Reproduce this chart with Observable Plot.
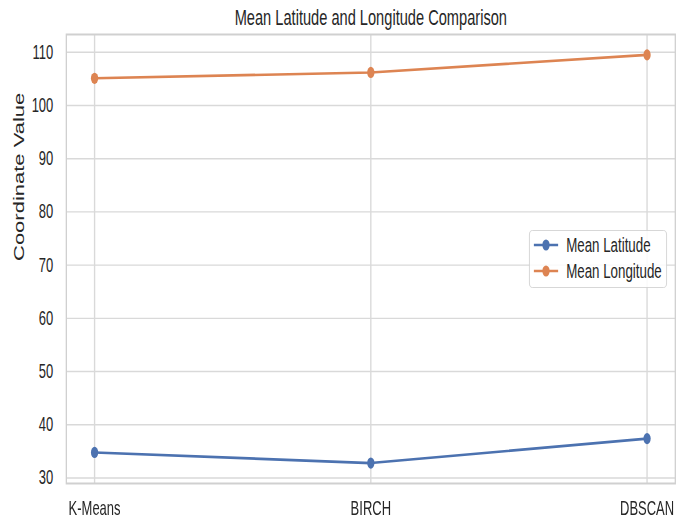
<!DOCTYPE html>
<html>
<head>
<meta charset="utf-8">
<script src="https://cdn.jsdelivr.net/npm/d3@7"></script>
<script src="https://cdn.jsdelivr.net/npm/@observablehq/plot@0.6"></script>
<style>
  html, body { margin: 0; padding: 0; background: white; }
  #wrap { width: 688px; height: 518px; overflow: hidden; position: relative; background: white; }
  #inner { position: absolute; left: 0; top: 0; height: 518px; transform-origin: 0 0; }
  #legend { position: absolute; box-sizing: border-box; border: 1.5px solid #cfcfcf; border-radius: 5px;
            background: rgba(255,255,255,0.85); font-family: "Liberation Sans", Arial, sans-serif; font-size: 20.5px; color: #262626; }
  .row { position: absolute; left: 0; right: 0; height: 26px; display: flex; align-items: center; }
  .row svg { flex: none; }
  .row span { margin-left: 12px; white-space: nowrap; }
</style>
</head>
<body>
<div id="wrap"><div id="inner"></div></div>
<script>
// ---- data ----
const categories = ["K-Means", "BIRCH", "DBSCAN"];
const seriesNames = ["Mean Latitude", "Mean Longitude"];
const meanLatitude = [34.8, 32.8, 37.4];
const meanLongitude = [105.1, 106.2, 109.5];
const yTicks = [30, 40, 50, 60, 70, 80, 90, 100, 110];
const colors = ["#4c72b0", "#dd8452"];
const titleText = "Mean Latitude and Longitude Comparison";
const yLabelText = "Coordinate Value";

// ---- layout ----
const SX = 0.65;                 // horizontal squash of the reference image
const W = 688 / SX;
const H = 518;

const rows = [];
categories.forEach((c, i) => {
  rows.push({method: c, series: seriesNames[0], value: meanLatitude[i]});
  rows.push({method: c, series: seriesNames[1], value: meanLongitude[i]});
});
const all = meanLatitude.concat(meanLongitude);
const [lo, hi] = d3.extent(all);
const pad = (hi - lo) * 0.05;

const chart = Plot.plot({
  width: W,
  height: H,
  marginLeft: 66 / SX,
  marginRight: 13 / SX,
  marginTop: 34,
  marginBottom: 35,
  style: {fontFamily: "Liberation Sans, Arial, sans-serif", fontSize: "20px", color: "#262626", background: "white", overflow: "visible"},
  x: {type: "point", domain: categories, padding: 0.1, label: null},
  y: {domain: [lo - pad, hi + pad], label: null},
  color: {domain: seriesNames, range: colors},
  marks: [
    Plot.gridY(yTicks, {stroke: "#d9d9d9", strokeOpacity: 1, strokeWidth: 1.4}),
    Plot.gridX(categories, {stroke: "#d9d9d9", strokeOpacity: 1, strokeWidth: 2.1}),
    Plot.frame({stroke: "#d0d0d0", strokeWidth: 2}),
    Plot.axisY(yTicks, {tickSize: 0, tickPadding: 20, label: null, fill: "#262626"}),
    Plot.axisX(categories, {tickSize: 0, tickPadding: 17, label: null, fill: "#262626"}),
    Plot.line(rows, {x: "method", y: "value", z: "series", stroke: "series", strokeWidth: 2.6}),
    Plot.dot(rows, {x: "method", y: "value", fill: "series", r: 5.6, stroke: null}),
    Plot.text([titleText], {frameAnchor: "top", dy: -16.5, fontSize: 22.5, lineAnchor: "middle", fill: "#262626"}),
    Plot.text([yLabelText], {frameAnchor: "left", dx: -72, dy: 2, rotate: -90, fontSize: 22, lineAnchor: "middle", fill: "#262626"})
  ]
});

const inner = document.getElementById("inner");
inner.style.width = W + "px";
inner.style.transform = `scaleX(${SX})`;
inner.appendChild(chart);

// ---- legend (HTML, squashed together with the chart) ----
const legend = document.createElement("div");
legend.id = "legend";
legend.style.left = (529 / SX) + "px";
legend.style.top = "230px";
legend.style.width = ((667 - 529) / SX) + "px";
legend.style.height = "58px";
seriesNames.forEach((name, i) => {
  const row = document.createElement("div");
  row.className = "row";
  row.style.top = (1 + i * 26) + "px";
  row.style.paddingLeft = (4 / SX) + "px";
  const sw = d3.create("svg").attr("width", 38).attr("height", 20);
  sw.append("line").attr("x1", 0).attr("x2", 38).attr("y1", 10).attr("y2", 10)
    .attr("stroke", colors[i]).attr("stroke-width", 2.6);
  sw.append("circle").attr("cx", 19).attr("cy", 10).attr("r", 5.6).attr("fill", colors[i]);
  row.appendChild(sw.node());
  const t = document.createElement("span");
  t.textContent = name;
  row.appendChild(t);
  legend.appendChild(row);
});
inner.appendChild(legend);
</script>
</body>
</html>
